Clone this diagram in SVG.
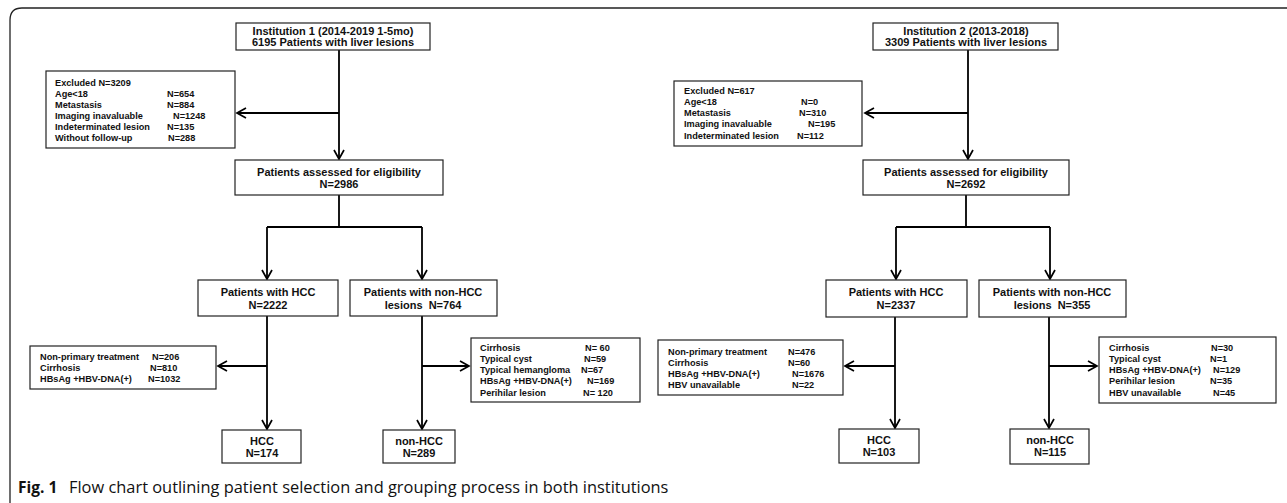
<svg xmlns="http://www.w3.org/2000/svg" width="1287" height="503" viewBox="0 0 1287 503">
<style>
.box{fill:#fff;stroke:#222;stroke-width:1.2}
.t{font-family:"Liberation Sans",Arial,sans-serif;font-weight:bold;font-size:11px;fill:#111;text-anchor:middle}
.s{font-family:"Liberation Sans",Arial,sans-serif;font-weight:bold;font-size:9.2px;fill:#111}
.ln{fill:none;stroke:#000;stroke-width:1.8}
.cap{font-family:"Open Sans","Noto Sans",sans-serif;font-size:16.4px;fill:#111}
</style>
<defs>
<marker id="arr" viewBox="0 0 12 12" refX="10" refY="6" markerWidth="12" markerHeight="12" markerUnits="userSpaceOnUse" orient="auto">
<path d="M1,1 L10,6 L1,11" fill="none" stroke="#000" stroke-width="1.7"/>
</marker>
</defs>
<rect width="1287" height="503" fill="#fff"/>
<path d="M10,503 L10,20 Q10,8 22,8 L1287,8" fill="none" stroke="#222" stroke-width="1.3"/>

<g id="connectors">
<path class="ln" d="M339,48 L339,159" marker-end="url(#arr)"/>
<path class="ln" d="M339,113 L237,113" marker-end="url(#arr)"/>
<path class="ln" d="M339,195 L339,227"/>
<path class="ln" d="M267,227 L422,227"/>
<path class="ln" d="M267,227 L267,279" marker-end="url(#arr)"/>
<path class="ln" d="M422,227 L422,279" marker-end="url(#arr)"/>
<path class="ln" d="M267,316 L267,429" marker-end="url(#arr)"/>
<path class="ln" d="M267,366 L218,366" marker-end="url(#arr)"/>
<path class="ln" d="M422,316 L422,429" marker-end="url(#arr)"/>
<path class="ln" d="M422,366 L469,366" marker-end="url(#arr)"/>
<path class="ln" d="M968,48 L968,159" marker-end="url(#arr)"/>
<path class="ln" d="M968,113 L865,113" marker-end="url(#arr)"/>
<path class="ln" d="M966,195 L966,227"/>
<path class="ln" d="M896,227 L1050,227"/>
<path class="ln" d="M896,227 L896,279" marker-end="url(#arr)"/>
<path class="ln" d="M1050,227 L1050,279" marker-end="url(#arr)"/>
<path class="ln" d="M895,317 L895,428" marker-end="url(#arr)"/>
<path class="ln" d="M895,366 L845,366" marker-end="url(#arr)"/>
<path class="ln" d="M1049,317 L1049,428" marker-end="url(#arr)"/>
<path class="ln" d="M1049,366 L1097,366" marker-end="url(#arr)"/>
</g>

<g id="inst1">
<rect class="box" x="236" y="23" width="194" height="27"/>
<text class="t" x="333" y="35">Institution 1 (2014-2019 1-5mo)</text>
<text class="t" x="333" y="46">6195 Patients with liver lesions</text>
</g>
<g id="excl1">
<rect class="box" x="46" y="71" width="189" height="77"/>
<text class="s" x="55" y="86">Excluded N=3209</text>
<text class="s" x="55" y="97">Age&lt;18</text><text class="s" x="167" y="97">N=654</text>
<text class="s" x="55" y="108">Metastasis</text><text class="s" x="167" y="108">N=884</text>
<text class="s" x="55" y="119">Imaging inavaluable</text><text class="s" x="173" y="119">N=1248</text>
<text class="s" x="55" y="130">Indeterminated lesion</text><text class="s" x="167" y="130">N=135</text>
<text class="s" x="55" y="141">Without follow-up</text><text class="s" x="168" y="141">N=288</text>
</g>
<g id="assess1">
<rect class="box" x="235" y="160" width="208" height="35"/>
<text class="t" x="339" y="176">Patients assessed for eligibility</text>
<text class="t" x="339" y="188">N=2986</text>
</g>
<g id="hcc1">
<rect class="box" x="198" y="280" width="140" height="36"/>
<text class="t" x="268" y="296">Patients with HCC</text>
<text class="t" x="268" y="309">N=2222</text>
</g>
<g id="nonhcc1">
<rect class="box" x="350" y="280" width="147" height="36"/>
<text class="t" x="423" y="296">Patients with non-HCC</text>
<text class="t" x="423" y="309" xml:space="preserve">lesions  N=764</text>
</g>
<g id="hccexcl1">
<rect class="box" x="30" y="346" width="186" height="43"/>
<text class="s" x="40" y="360">Non-primary treatment</text><text class="s" x="152" y="360">N=206</text>
<text class="s" x="40" y="371">Cirrhosis</text><text class="s" x="150" y="371">N=810</text>
<text class="s" x="40" y="382">HBsAg +HBV-DNA(+)</text><text class="s" x="148" y="382">N=1032</text>
</g>
<g id="nonexcl1">
<rect class="box" x="471" y="338" width="169" height="64"/>
<text class="s" x="480" y="351">Cirrhosis</text><text class="s" x="585" y="351" xml:space="preserve">N= 60</text>
<text class="s" x="480" y="362">Typical cyst</text><text class="s" x="584" y="362">N=59</text>
<text class="s" x="480" y="373">Typical hemangloma</text><text class="s" x="581" y="373">N=67</text>
<text class="s" x="480" y="384">HBsAg +HBV-DNA(+)</text><text class="s" x="587" y="384">N=169</text>
<text class="s" x="480" y="396">Perihilar lesion</text><text class="s" x="583" y="396" xml:space="preserve">N= 120</text>
</g>
<g id="hccfinal1">
<rect class="box" x="222" y="430" width="79" height="33"/>
<text class="t" x="262" y="445">HCC</text>
<text class="t" x="262" y="457">N=174</text>
</g>
<g id="nonfinal1">
<rect class="box" x="383" y="430" width="72" height="33"/>
<text class="t" x="419" y="445">non-HCC</text>
<text class="t" x="419" y="457">N=289</text>
</g>

<g id="inst2">
<rect class="box" x="873" y="23" width="185" height="27"/>
<text class="t" x="966" y="35">Institution 2 (2013-2018)</text>
<text class="t" x="966" y="46">3309 Patients with liver lesions</text>
</g>
<g id="excl2">
<rect class="box" x="674" y="81" width="188" height="65"/>
<text class="s" x="684" y="94">Excluded N=617</text>
<text class="s" x="684" y="105">Age&lt;18</text><text class="s" x="801" y="105">N=0</text>
<text class="s" x="684" y="116">Metastasis</text><text class="s" x="799" y="116">N=310</text>
<text class="s" x="684" y="127">Imaging inavaluable</text><text class="s" x="808" y="127">N=195</text>
<text class="s" x="684" y="139">Indeterminated lesion</text><text class="s" x="797" y="139">N=112</text>
</g>
<g id="assess2">
<rect class="box" x="863" y="160" width="206" height="35"/>
<text class="t" x="966" y="176">Patients assessed for eligibility</text>
<text class="t" x="966" y="188">N=2692</text>
</g>
<g id="hcc2">
<rect class="box" x="826" y="280" width="141" height="37"/>
<text class="t" x="896" y="296">Patients with HCC</text>
<text class="t" x="896" y="309">N=2337</text>
</g>
<g id="nonhcc2">
<rect class="box" x="979" y="280" width="147" height="37"/>
<text class="t" x="1052" y="296">Patients with non-HCC</text>
<text class="t" x="1052" y="309" xml:space="preserve">lesions  N=355</text>
</g>
<g id="hccexcl2">
<rect class="box" x="658" y="340" width="185" height="55"/>
<text class="s" x="668" y="355">Non-primary treatment</text><text class="s" x="788" y="355">N=476</text>
<text class="s" x="668" y="366">Cirrhosis</text><text class="s" x="788" y="366">N=60</text>
<text class="s" x="668" y="377">HBsAg +HBV-DNA(+)</text><text class="s" x="792" y="377">N=1676</text>
<text class="s" x="668" y="388">HBV unavailable</text><text class="s" x="792" y="388">N=22</text>
</g>
<g id="nonexcl2">
<rect class="box" x="1099" y="337" width="177" height="66"/>
<text class="s" x="1109" y="351">Cirrhosis</text><text class="s" x="1211" y="351">N=30</text>
<text class="s" x="1109" y="362">Typical cyst</text><text class="s" x="1210" y="362">N=1</text>
<text class="s" x="1109" y="373">HBsAg +HBV-DNA(+)</text><text class="s" x="1213" y="373">N=129</text>
<text class="s" x="1109" y="384">Perihilar lesion</text><text class="s" x="1210" y="384">N=35</text>
<text class="s" x="1109" y="396">HBV unavailable</text><text class="s" x="1213" y="396">N=45</text>
</g>
<g id="hccfinal2">
<rect class="box" x="839" y="429" width="80" height="34"/>
<text class="t" x="879" y="444">HCC</text>
<text class="t" x="879" y="456">N=103</text>
</g>
<g id="nonfinal2">
<rect class="box" x="1010" y="429" width="79" height="35"/>
<text class="t" x="1050" y="444">non-HCC</text>
<text class="t" x="1050" y="456">N=115</text>
</g>

<g id="caption">
<text class="cap" x="18" y="493"><tspan font-weight="bold" font-size="15.5">Fig. 1</tspan><tspan x="69">Flow chart outlining patient selection and grouping process in both institutions</tspan></text>
</g>
</svg>
